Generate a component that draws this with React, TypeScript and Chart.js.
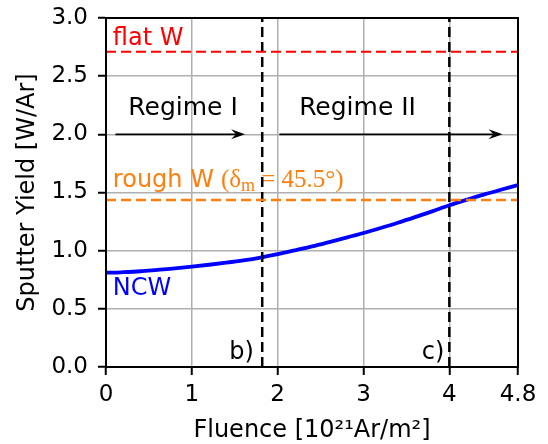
import { useEffect, useRef } from 'react';
import { Chart, registerables } from 'chart.js';
Chart.register(...registerables);

// ---- data ----
const fluence = [0, 0.1, 0.2, 0.4, 0.6, 0.8, 1.0, 1.2, 1.4, 1.6, 1.8, 2.0, 2.2, 2.4, 2.6, 2.8, 3.0, 3.2, 3.4, 3.6, 3.8, 4.0, 4.2, 4.4, 4.6, 4.8];
const ncwYield = [0.812, 0.812, 0.815, 0.823, 0.835, 0.847, 0.862, 0.879, 0.897, 0.917, 0.941, 0.97, 1.003, 1.037, 1.074, 1.112, 1.152, 1.195, 1.24, 1.288, 1.338, 1.39, 1.437, 1.482, 1.524, 1.564];
const xTickValues = [0, 1, 2, 3, 4, 4.8];
const xTickLabels = ['0', '1', '2', '3', '4', '4.8'];
const yMin = 0;
const yMax = 3;
const yStep = 0.5;
const flatW = 2.71;
const roughW = 1.435;
const regimeBounds = [1.82, 4.0];
const arrowStarts = [0.11, 2.02];
const arrowEnds = [1.62, 4.62];
const arrowY = 2.0;
const regimeLabels = ['Regime I', 'Regime II'];
const regimeLabelX = [0.26, 2.25];
const regimeLabelY = 2.17;
const boundLabels = ['b)', 'c)'];
const boundLabelX = [1.435, 3.68];
const boundLabelY = 0.07;

const SANS = '"DejaVu Sans", sans-serif';
const SERIF = '"Liberation Serif", "Times New Roman", serif';

const annotations = {
  id: 'annotations',
  beforeDatasetsDraw(chart: any) {
    const { ctx, scales } = chart;
    const x = scales.x;
    const y = scales.y;
    ctx.save();
    ctx.textAlign = 'left';
    ctx.textBaseline = 'alphabetic';
    ctx.font = `24px ${SANS}`;
    // flat W
    ctx.fillStyle = '#ff0000';
    ctx.fillText('flat W', x.getPixelForValue(0.08), y.getPixelForValue(2.77));
    // regimes
    ctx.fillStyle = '#000000';
    ctx.font = `25px ${SANS}`;
    regimeLabels.forEach((t, i) => {
      ctx.fillText(t, x.getPixelForValue(regimeLabelX[i]), y.getPixelForValue(regimeLabelY));
    });
    ctx.font = `24px ${SANS}`;
    boundLabels.forEach((t, i) => {
      ctx.fillText(t, x.getPixelForValue(boundLabelX[i]), y.getPixelForValue(boundLabelY));
    });
    // rough W
    ctx.fillStyle = '#ff7f0e';
    const ry = y.getPixelForValue(1.55);
    let rx = x.getPixelForValue(0.08);
    ctx.fillText('rough W', rx, ry);
    rx += ctx.measureText('rough W').width + 7;
    ctx.font = `25px ${SERIF}`;
    ctx.fillText('(δ', rx, ry);
    rx += ctx.measureText('(δ').width;
    ctx.font = `18px ${SERIF}`;
    ctx.fillText('m', rx, ry + 4);
    rx += ctx.measureText('m').width;
    ctx.font = `25px ${SERIF}`;
    ctx.fillText(' = 45.5°)', rx, ry);
    // NCW
    ctx.font = `24px ${SANS}`;
    ctx.fillStyle = '#0000ff';
    ctx.fillText('NCW', x.getPixelForValue(0.08), y.getPixelForValue(0.615));
    ctx.restore();
  },
  afterDatasetsDraw(chart: any) {
    const { ctx, scales, chartArea } = chart;
    const x = scales.x;
    const y = scales.y;
    ctx.save();
    // arrows
    ctx.strokeStyle = '#000';
    ctx.fillStyle = '#000';
    ctx.lineWidth = 1.6;
    arrowStarts.forEach((s, i) => {
      const x0 = x.getPixelForValue(s);
      const x1 = x.getPixelForValue(arrowEnds[i]);
      const yy = y.getPixelForValue(arrowY);
      ctx.beginPath();
      ctx.moveTo(x0, yy);
      ctx.lineTo(x1 - 6, yy);
      ctx.stroke();
      ctx.beginPath();
      ctx.moveTo(x1, yy);
      ctx.lineTo(x1 - 14, yy - 5);
      ctx.lineTo(x1 - 9, yy);
      ctx.lineTo(x1 - 14, yy + 5);
      ctx.closePath();
      ctx.fill();
    });
    // frame
    ctx.lineWidth = 2;
    ctx.strokeStyle = '#000';
    ctx.strokeRect(chartArea.left, chartArea.top, chartArea.right - chartArea.left, chartArea.bottom - chartArea.top);
    ctx.restore();
  },
};

export default function App() {
  const ref = useRef<HTMLCanvasElement>(null);
  useEffect(() => {
    document.body.style.margin = '0';
    const canvas = ref.current!;
    const pts = fluence.map((f, i) => ({ x: f, y: ncwYield[i] }));
    const chart = new Chart(canvas, {
      type: 'scatter',
      data: {
        datasets: [
          { data: [{ x: 0, y: flatW }, { x: 4.8, y: flatW }], borderColor: '#ff0000', borderWidth: 2, borderDash: [10, 5], showLine: true, pointRadius: 0 },
          { data: [{ x: 0, y: roughW }, { x: 4.8, y: roughW }], borderColor: '#ff7f0e', borderWidth: 2.5, borderDash: [10, 5], showLine: true, pointRadius: 0 },
          ...regimeBounds.map((b) => ({ data: [{ x: b, y: yMin }, { x: b, y: yMax }], borderColor: '#000000', borderWidth: 2.5, borderDash: [10, 5], showLine: true, pointRadius: 0 })),
          { data: pts, borderColor: '#0000ff', borderWidth: 3.8, showLine: true, pointRadius: 0, tension: 0.3, cubicInterpolationMode: 'monotone' },
        ] as any,
      },
      options: {
        animation: false,
        responsive: false,
        devicePixelRatio: 1,
        layout: { padding: { left: 0, top: 18, right: 30, bottom: 0 } },
        plugins: { legend: { display: false }, tooltip: { enabled: false } },
        scales: {
          x: {
            type: 'linear',
            min: 0,
            max: 4.8,
            afterBuildTicks: (s: any) => { s.ticks = xTickValues.map((v) => ({ value: v })); },
            afterFit: (s: any) => { s.height = 77; s.paddingLeft = 0; s.paddingRight = 0; },
            ticks: {
              color: '#000',
              font: { family: SANS, size: 23 },
              padding: 6,
              maxRotation: 0,
              autoSkip: false,
              callback: (v: any) => { const i = xTickValues.indexOf(Number(v)); return i >= 0 ? xTickLabels[i] : ''; },
            },
            grid: { color: '#b0b0b0', lineWidth: 1.5, tickColor: '#000', tickLength: 8, tickWidth: 2 },
            border: { color: '#000', width: 2 },
            title: { display: true, text: 'Fluence [10²¹Ar/m²]', color: '#000', font: { family: SANS, size: 24, lineHeight: 1.0 }, padding: { top: 0, bottom: 1 } },
          },
          y: {
            min: yMin,
            max: yMax,
            afterFit: (s: any) => { s.width = 106; s.paddingTop = 0; s.paddingBottom = 0; },
            ticks: { stepSize: yStep, color: '#000', font: { family: SANS, size: 23 }, padding: 10, callback: (v: any) => Number(v).toFixed(1) },
            grid: { color: '#b0b0b0', lineWidth: 1.5, tickColor: '#000', tickLength: 8, tickWidth: 2 },
            border: { color: '#000', width: 2 },
            title: { display: true, text: 'Sputter Yield [W/Ar]', color: '#000', font: { family: SANS, size: 24, lineHeight: 1.2 }, padding: { top: 13, bottom: 0 } },
          },
        },
      },
      plugins: [annotations],
    });
    return () => chart.destroy();
  }, []);
  return (
    <div style={{ width: 548, height: 444 }}>
      <canvas ref={ref} width={548} height={444} style={{ display: 'block' }} />
    </div>
  );
}
